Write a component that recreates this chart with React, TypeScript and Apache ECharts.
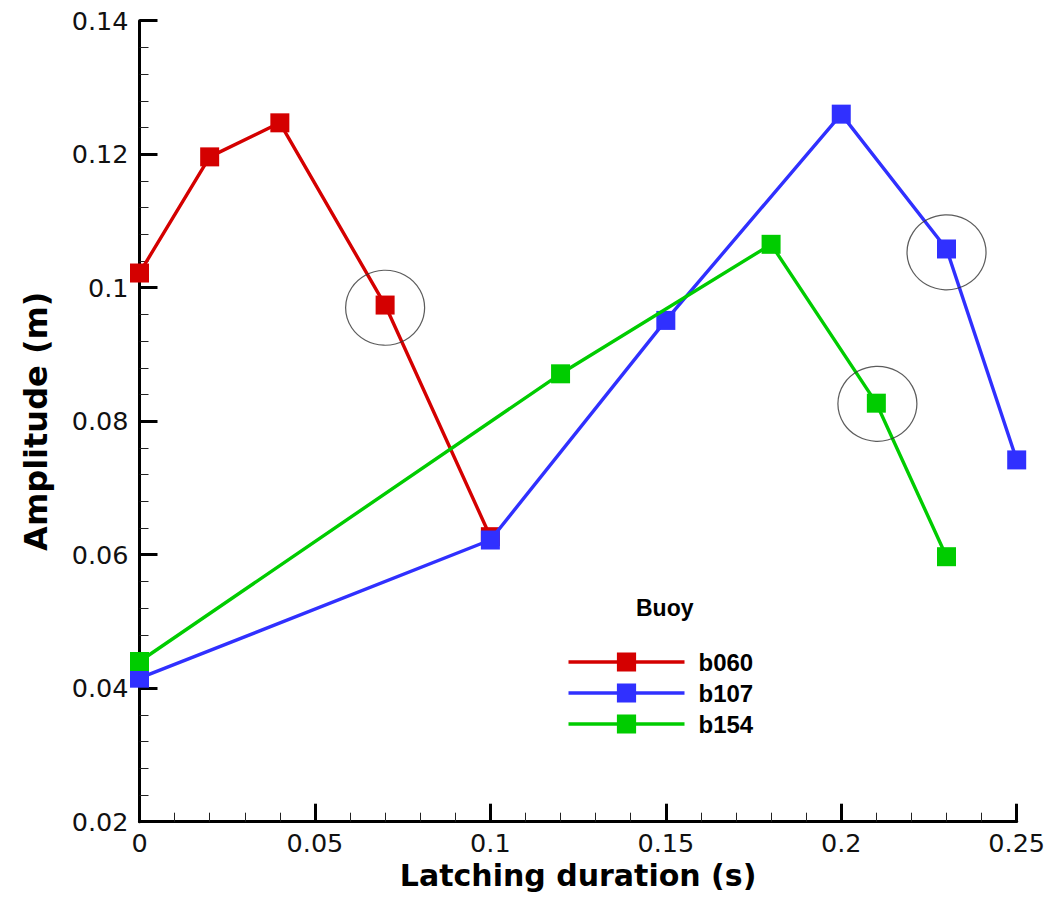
import React, { useEffect, useRef } from "react";
import * as echarts from "echarts";

const seriesNames = ["b060", "b107", "b154"];
const seriesColors = ["#d40000", "#3030ff", "#00cc00"];

const b060X = [0, 0.02, 0.04, 0.07, 0.1];
const b060Y = [0.1022, 0.1196, 0.1247, 0.0974, 0.0627];

const b107X = [0, 0.1, 0.15, 0.2, 0.23, 0.25];
const b107Y = [0.0415, 0.0622, 0.0951, 0.126, 0.1058, 0.0742];

const b154X = [0, 0.12, 0.18, 0.21, 0.23];
const b154Y = [0.044, 0.0871, 0.1065, 0.0827, 0.0597];

// highlighted (circled) points
const circleX = [0.07, 0.23, 0.2103];
const circleY = [0.097, 0.1053, 0.0826];

const xTitle = "Latching duration (s)";
const yTitle = "Amplitude (m)";
const legendTitle = "Buoy";

const zip = (xs: number[], ys: number[]) => xs.map((x, i) => [x, ys[i]]);

export default function App() {
  const ref = useRef<HTMLDivElement>(null);
  useEffect(() => {
    if (!ref.current) return;
    const chart = echarts.init(ref.current, undefined, { renderer: "svg" });
    const tickFont = "DejaVu Sans";
    const lineSeries = [
      [b060X, b060Y],
      [b107X, b107Y],
      [b154X, b154Y],
    ].map(([xs, ys], i) => ({
      name: seriesNames[i],
      type: "line",
      data: zip(xs as number[], ys as number[]),
      symbol: "rect",
      symbolSize: 19,
      showSymbol: true,
      lineStyle: { color: seriesColors[i], width: 3.4 },
      itemStyle: { color: seriesColors[i] },
      z: 3 + i,
    }));
    chart.setOption({
      animation: false,
      backgroundColor: "#ffffff",
      grid: { left: 139.5, top: 20.7, right: 34.3, bottom: 76.3 },
      title: {
        text: legendTitle,
        left: 631,
        top: 591,
        textStyle: {
          fontFamily: "Liberation Sans",
          fontWeight: "bold",
          fontSize: 23,
          color: "#000",
        },
      },
      legend: {
        orient: "vertical",
        left: 561.7,
        top: 645,
        itemWidth: 116,
        itemHeight: 24,
        itemGap: 7,
        data: seriesNames,
        lineStyle: { width: 3.6 },
        textStyle: {
          fontFamily: "Liberation Sans",
          fontWeight: "bold",
          fontSize: 24,
          color: "#000",
          padding: [0, 0, 0, 9],
        },
      },
      xAxis: {
        type: "value",
        min: 0,
        max: 0.25,
        interval: 0.05,
        name: xTitle,
        nameLocation: "middle",
        nameGap: 28,
        nameTextStyle: {
          fontFamily: tickFont,
          fontWeight: "bold",
          fontSize: 30,
          color: "#000",
        },
        axisLine: { show: true, onZero: false, lineStyle: { color: "#000", width: 3 } },
        axisTick: { show: true, inside: true, length: 18, lineStyle: { color: "#000", width: 3 } },
        minorTick: { show: true, splitNumber: 5, length: 9, lineStyle: { color: "#222", width: 1 } },
        axisLabel: { margin: 8, fontFamily: tickFont, fontSize: 25.5, color: "#111" },
        splitLine: { show: false },
      },
      yAxis: {
        type: "value",
        min: 0.02,
        max: 0.14,
        interval: 0.02,
        name: yTitle,
        nameLocation: "middle",
        nameGap: 88,
        nameTextStyle: {
          fontFamily: tickFont,
          fontWeight: "bold",
          fontSize: 32,
          color: "#000",
        },
        axisLine: { show: true, onZero: false, lineStyle: { color: "#000", width: 3 } },
        axisTick: { show: true, inside: true, length: 18, lineStyle: { color: "#000", width: 3 } },
        minorTick: { show: true, splitNumber: 5, length: 9, lineStyle: { color: "#222", width: 1 } },
        axisLabel: { margin: 11, fontFamily: tickFont, fontSize: 25.5, color: "#111" },
        splitLine: { show: false },
      },
      series: [
        ...lineSeries,
        {
          name: "highlight",
          type: "scatter",
          data: zip(circleX, circleY),
          symbol: "circle",
          symbolSize: [79, 75],
          silent: true,
          itemStyle: { color: "rgba(0,0,0,0)", borderColor: "#333", borderWidth: 1.2 },
          z: 10,
        },
      ],
    });
    return () => chart.dispose();
  }, []);
  return (
    <div
      ref={ref}
      style={{ position: "fixed", left: 0, top: 0, width: 1051, height: 898 }}
    />
  );
}
